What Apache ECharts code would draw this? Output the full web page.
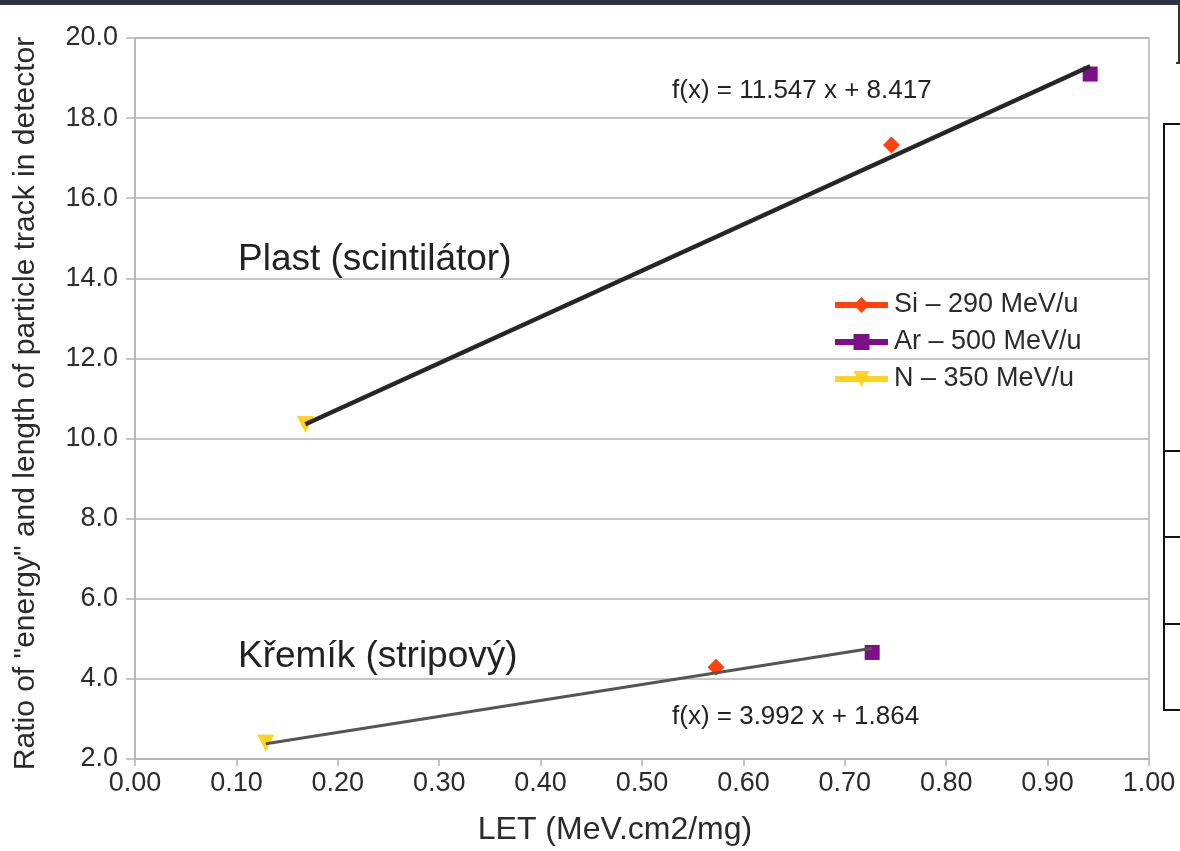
<!DOCTYPE html>
<html>
<head>
<meta charset="utf-8">
<script src="https://cdn.jsdelivr.net/npm/echarts@6/dist/echarts.min.js"></script>
<style>
  html, body { margin: 0; padding: 0; background: #ffffff; }
  #chart { width: 1180px; height: 851px; }
</style>
</head>
<body>
<div id="chart"></div>
<script>
// Ion beams measured in both detectors
const ions = ['Si – 290 MeV/u', 'Ar – 500 MeV/u', 'N – 350 MeV/u'];

// LET (MeV.cm2/mg) and energy/track-length ratio, plastic scintillator
const letPlast = [0.746, 0.942, 0.168];
const ratioPlast = [17.33, 19.10, 10.35];

// LET and energy/track-length ratio, silicon strip detector
const letSilicon = [0.573, 0.727, 0.129];
const ratioSilicon = [4.29, 4.66, 2.40];

// Linear fits: [plastic, silicon]
const fitSlope = [11.547, 3.992];
const fitIntercept = [8.417, 1.864];

// Detector captions
const detectorNames = ['Plast (scintilátor)', 'Křemík (stripový)'];

// Axis ranges
const xRange = [0, 1];
const xStep = 0.1;
const yRange = [2, 20];
const yStep = 2;

// Styling
const ionColors = ['#ff420e', '#7f0f88', '#ffd320'];
const ionSymbols = ['diamond', 'rect', 'triangle'];
const ionSymbolRotate = [0, 0, 180];
const ionSymbolSize = [17, 15, 17];
const font = 'Liberation Sans, Arial, sans-serif';
const textColor = '#2b2b2b';

const chart = echarts.init(document.getElementById('chart'), null, { renderer: 'canvas' });

const ionSeries = ions.map((name, i) => ({
  name: name,
  type: 'line',
  data: [[letPlast[i], ratioPlast[i]], [letSilicon[i], ratioSilicon[i]]],
  symbol: ionSymbols[i],
  symbolRotate: ionSymbolRotate[i],
  symbolSize: ionSymbolSize[i],
  showAllSymbol: true,
  itemStyle: { color: ionColors[i] },
  lineStyle: { color: ionColors[i], width: 6, opacity: 0 },
  emphasis: { disabled: true },
  z: 2
}));

function fitLine(lets, k) {
  const lo = Math.min(...lets);
  const hi = Math.max(...lets);
  return [[lo, fitSlope[k] * lo + fitIntercept[k]], [hi, fitSlope[k] * hi + fitIntercept[k]]];
}

const fitSeries = [
  { data: fitLine(letPlast, 0), color: '#262626', width: 4.5 },
  { data: fitLine(letSilicon, 1), color: '#555555', width: 3 }
].map(f => ({
  type: 'line',
  data: f.data,
  symbol: 'none',
  silent: true,
  lineStyle: { color: f.color, width: f.width },
  emphasis: { disabled: true },
  z: 3
}));

function fitLabel(k) {
  return 'f(x) = ' + fitSlope[k].toFixed(3) + ' x + ' + fitIntercept[k].toFixed(3);
}

const option = {
  backgroundColor: '#ffffff',
  animation: false,
  textStyle: { fontFamily: font },
  grid: {
    left: 135, right: 31, top: 38, bottom: 91,
    show: true, borderColor: '#b3b3b3', borderWidth: 1.5, backgroundColor: 'transparent'
  },
  legend: {
    data: ions,
    orient: 'vertical',
    left: 832,
    top: 290,
    padding: 0,
    itemWidth: 53,
    itemHeight: 20,
    itemGap: 7,
    lineStyle: { width: 6, opacity: 1 },
    textStyle: { fontSize: 27, color: textColor, fontFamily: font, lineHeight: 30, padding: [0, 0, 0, 1] }
  },
  xAxis: {
    type: 'value',
    min: xRange[0], max: xRange[1], interval: xStep,
    name: 'LET (MeV.cm2/mg)',
    nameLocation: 'middle',
    nameGap: 55,
    nameTextStyle: { fontSize: 32, color: textColor, fontFamily: font, padding: [0, 54, 0, 0] },
    axisLine: { lineStyle: { color: '#b3b3b3', width: 1.5 } },
    axisTick: { show: true, length: 7, lineStyle: { color: '#b3b3b3', width: 1.5 } },
    axisLabel: { fontSize: 27, color: textColor, margin: 11, formatter: v => v.toFixed(2) },
    splitLine: { show: false }
  },
  yAxis: {
    type: 'value',
    min: yRange[0], max: yRange[1], interval: yStep,
    name: 'Ratio of "energy" and length of particle track in detector',
    nameLocation: 'middle',
    nameGap: 94,
    nameTextStyle: { fontSize: 30, color: textColor, fontFamily: font, padding: [0, 10, 0, 0] },
    axisLine: { show: true, lineStyle: { color: '#b3b3b3', width: 1.5 } },
    axisTick: { show: true, length: 9, lineStyle: { color: '#b3b3b3', width: 1.5 } },
    axisLabel: { fontSize: 27, color: textColor, margin: 17, formatter: v => v.toFixed(1) },
    splitLine: { show: true, lineStyle: { color: '#b3b3b3', width: 1.5 } }
  },
  graphic: [
    // dark strip along the top edge
    { type: 'rect', left: 0, top: 0, shape: { width: 1180, height: 5 }, style: { fill: '#2c3345' }, silent: true },
    // frame pieces at the right edge
    { type: 'line', shape: { x1: 1179, y1: 5, x2: 1179, y2: 63 }, style: { stroke: '#333333', lineWidth: 2 }, silent: true },
    { type: 'line', shape: { x1: 1176, y1: 63, x2: 1180, y2: 63 }, style: { stroke: '#333333', lineWidth: 2 }, silent: true },
    { type: 'rect', shape: { x: 1164, y: 124, width: 40, height: 586 }, style: { fill: 'none', stroke: '#111111', lineWidth: 2 }, silent: true },
    { type: 'line', shape: { x1: 1164, y1: 451, x2: 1180, y2: 451 }, style: { stroke: '#111111', lineWidth: 2 }, silent: true },
    { type: 'line', shape: { x1: 1164, y1: 537, x2: 1180, y2: 537 }, style: { stroke: '#111111', lineWidth: 2 }, silent: true },
    { type: 'line', shape: { x1: 1164, y1: 624, x2: 1180, y2: 624 }, style: { stroke: '#111111', lineWidth: 2 }, silent: true },
    // detector captions
    { type: 'text', left: 238, top: 241, style: { text: detectorNames[0], fontSize: 37, fontFamily: font, fill: '#222222' }, silent: true },
    { type: 'text', left: 238, top: 638, style: { text: detectorNames[1], fontSize: 37, fontFamily: font, fill: '#222222' }, silent: true },
    // fit equations
    { type: 'text', left: 672, top: 78, style: { text: fitLabel(0), fontSize: 26, fontFamily: font, fill: '#222222' }, silent: true },
    { type: 'text', left: 672, top: 704, style: { text: fitLabel(1), fontSize: 26, fontFamily: font, fill: '#222222' }, silent: true }
  ],
  series: ionSeries.concat(fitSeries)
};

chart.setOption(option);
</script>
</body>
</html>
